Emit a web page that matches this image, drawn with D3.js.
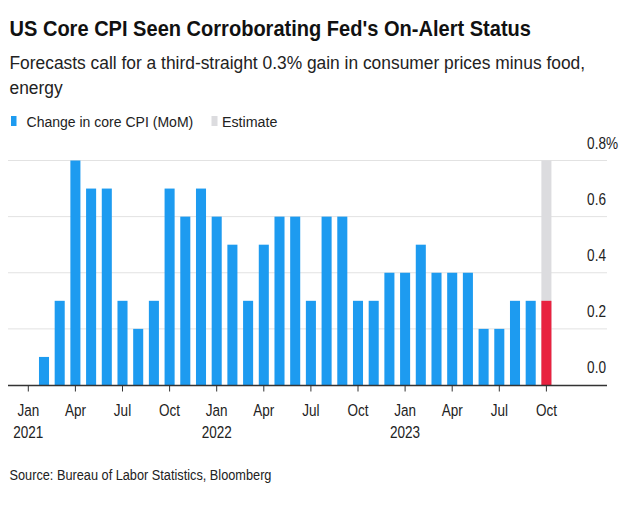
<!DOCTYPE html>
<html><head><meta charset="utf-8">
<script src="https://cdn.jsdelivr.net/npm/d3@7"></script>
<style>body{margin:0;background:#fff;} svg{display:block;font-family:"Liberation Sans",Arial,sans-serif;}</style>
</head><body>
<svg id="c" width="640" height="512"></svg>
<script>
const months = ["2021-01","2021-02","2021-03","2021-04","2021-05","2021-06","2021-07","2021-08","2021-09","2021-10","2021-11","2021-12",
"2022-01","2022-02","2022-03","2022-04","2022-05","2022-06","2022-07","2022-08","2022-09","2022-10","2022-11","2022-12",
"2023-01","2023-02","2023-03","2023-04","2023-05","2023-06","2023-07","2023-08","2023-09","2023-10"];
const values = [0,0.1,0.3,0.8,0.7,0.7,0.3,0.2,0.3,0.7,0.6,0.7,
0.6,0.5,0.3,0.5,0.6,0.6,0.3,0.6,0.6,0.3,0.3,0.4,
0.4,0.5,0.4,0.4,0.4,0.2,0.2,0.3,0.3,0.3];
const estimateMonth = "2023-10";
const yTicks = [0,0.2,0.4,0.6,0.8];
const yTickLabels = ["0.0","0.2","0.4","0.6","0.8%"];
const xTickMonths = ["2021-01","2021-04","2021-07","2021-10","2022-01","2022-04","2022-07","2022-10","2023-01","2023-04","2023-07","2023-10"];
const monthNames = {"01":"Jan","04":"Apr","07":"Jul","10":"Oct"};
const title = "US Core CPI Seen Corroborating Fed's On-Alert Status";
const subtitle1 = "Forecasts call for a third-straight 0.3% gain in consumer prices minus food,";
const subtitle2 = "energy";
const legendLabels = ["Change in core CPI (MoM)","Estimate"];
const source = "Source: Bureau of Labor Statistics, Bloomberg";

const BLUE="#1d9bf0", RED="#e8213f", GRAY="#dcdcdf";
const svg = d3.select("#c");
const SX = 0.8;

function txt(g, x, y, s, size, opts={}) {
  const t = g.append("text")
    .attr("transform", `translate(${x},${y}) scale(${opts.sx||SX},1)`)
    .attr("font-size", size)
    .attr("fill", opts.fill||"#111")
    .attr("font-weight", opts.weight||"normal")
    .attr("text-anchor", opts.anchor||"start")
    .text(s);
  return t;
}

// title etc.
txt(svg, 9.5, 36, title, 23, {weight:"bold", sx:0.872, fill:"#111"});
txt(svg, 9.5, 68.5, subtitle1, 18.5, {sx:0.94, fill:"#222"});
txt(svg, 9.5, 94, subtitle2, 18.5, {sx:0.94, fill:"#222"});

// legend
svg.append("rect").attr("x",11).attr("y",116).attr("width",5.5).attr("height",10).attr("fill",BLUE);
txt(svg, 26.5, 126.5, legendLabels[0], 15.5, {sx:0.906, fill:"#222"});
svg.append("rect").attr("x",211.5).attr("y",116).attr("width",6).attr("height",10).attr("fill",GRAY);
txt(svg, 222, 126.5, legendLabels[1], 15.5, {sx:0.92, fill:"#222"});

// scales
const x = d3.scaleBand().domain(months).range([20.45, 554.25]).paddingInner(0.36).paddingOuter(0.18);
const y = d3.scaleLinear().domain([0,0.8]).range([385,160.5]);
const left = 8, right = 607;

// gridlines
svg.append("g").selectAll("line").data(yTicks.filter(d=>d>0)).join("line")
  .attr("x1",left).attr("x2",right).attr("y1",d=>y(d)).attr("y2",d=>y(d))
  .attr("stroke","#e2e2e2").attr("stroke-width",1);

// y labels (right aligned, above gridline)
const yl = svg.append("g");
yTicks.forEach((d,i)=>{
  const lab = yTickLabels[i];
  if (lab.endsWith("%")) {
    txt(yl, 606, y(d)-11.5, lab.slice(0,-1), 16, {anchor:"end", fill:"#222", sx:0.85});
    txt(yl, 606, y(d)-11.5, "%", 16, {anchor:"start", fill:"#222", sx:0.85});
  } else {
    txt(yl, 606, y(d)-12, lab, 16, {anchor:"end", fill:"#222", sx:0.85});
  }
});

// estimate band
svg.append("rect")
  .attr("x", x(estimateMonth)).attr("width", x.bandwidth())
  .attr("y", y(0.8)).attr("height", y(0)-y(0.8)).attr("fill", GRAY);

// bars
svg.append("g").selectAll("rect").data(months.map((m,i)=>({m, v:values[i]}))).join("rect")
  .attr("x", d=>x(d.m)).attr("width", x.bandwidth())
  .attr("y", d=>y(d.v)).attr("height", d=>y(0)-y(d.v))
  .attr("fill", d=>d.m===estimateMonth?RED:BLUE);

// x axis baseline
svg.append("line").attr("x1",left).attr("x2",right).attr("y1",385.5).attr("y2",385.5)
  .attr("stroke","#333").attr("stroke-width",1.3);

// ticks and labels
const xg = svg.append("g");
xTickMonths.forEach(m=>{
  const cx = x(m)+x.bandwidth()/2;
  xg.append("line").attr("x1",cx).attr("x2",cx).attr("y1",385.5).attr("y2",391.5)
    .attr("stroke","#333").attr("stroke-width",1);
  const [yr, mo] = m.split("-");
  txt(xg, cx, 415.5, monthNames[mo], 16.5, {anchor:"middle", fill:"#222", sx:0.82});
  if (mo==="01") txt(xg, cx, 438, yr, 16.5, {anchor:"middle", fill:"#222", sx:0.82});
});

// source
txt(svg, 9.5, 480, source, 15, {sx:0.85, fill:"#222"});
</script>
</body></html>
